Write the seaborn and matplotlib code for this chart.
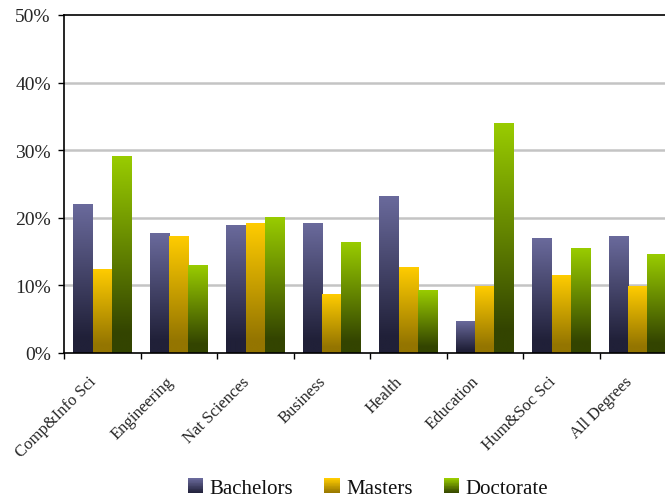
import numpy as np
import pandas as pd
import matplotlib
matplotlib.use("Agg")
import matplotlib.pyplot as plt
import matplotlib.transforms as mtransforms
import seaborn as sns
from matplotlib.colors import to_rgb
from matplotlib.legend_handler import HandlerBase
from matplotlib.patches import Rectangle, Patch
from matplotlib.ticker import FuncFormatter, FixedLocator

# Share of degrees awarded, by field and degree level (%)
categories = ["Comp&Info Sci", "Engineering", "Nat Sciences", "Business",
              "Health", "Education", "Hum&Soc Sci", "All Degrees"]
bachelors = [22.0, 17.7, 18.8, 19.1, 23.1, 4.7, 16.9, 17.2]
masters = [12.3, 17.2, 19.1, 8.6, 12.6, 9.9, 11.5, 9.9]
doctorate = [29.0, 12.9, 20.1, 16.4, 9.3, 33.9, 15.5, 14.5]
series = ["Bachelors", "Masters", "Doctorate"]

# light (top) and dark (bottom) ends of each bar's vertical gradient
top_colors = ["#6a6a9c", "#ffcc00", "#99cc00"]
bottom_colors = ["#202038", "#947500", "#334400"]

df = pd.DataFrame({"Field": categories, "Bachelors": bachelors,
                   "Masters": masters, "Doctorate": doctorate})
df = df.melt(id_vars="Field", var_name="Degree", value_name="Share")

sns.set_theme(style="white")
plt.rcParams["font.family"] = ["Liberation Serif", "DejaVu Serif"]
plt.rcParams["text.color"] = "#111111"


def ramp(top, bottom, n=256, hold=0.1):
    s = np.linspace(0, 1, n)
    t = np.clip(s / (1 - hold), 0, 1)
    c0, c1 = np.array(to_rgb(top)), np.array(to_rgb(bottom))
    return c0[None, :] * (1 - t[:, None]) + c1[None, :] * t[:, None]


fig = plt.figure(figsize=(6.65, 5.02), dpi=100)
ax = fig.add_axes([64 / 665, 148 / 502, 612 / 665, 338 / 502])

sns.barplot(data=df, x="Field", y="Share", hue="Degree", hue_order=series,
            order=categories, palette=top_colors, width=0.76, saturation=1,
            errorbar=None, legend=False, ax=ax)

# repaint every bar with a top-to-bottom gradient
for i, cont in enumerate(ax.containers):
    grad = ramp(top_colors[i], bottom_colors[i])[:, None, :]
    for bar in cont:
        x0, w, h = bar.get_x(), bar.get_width(), bar.get_height()
        ax.imshow(grad, extent=[x0, x0 + w, 0, h], aspect="auto",
                  origin="upper", interpolation="bilinear", zorder=2)
        bar.set_facecolor("none")
        bar.set_edgecolor("none")

ax.set_xlim(-0.5, len(categories) - 0.5)
ax.set_ylim(0, 50)
ax.set_xlabel("")
ax.set_ylabel("")

# y axis: percent ticks with light grid
ax.yaxis.set_major_locator(FixedLocator([0, 10, 20, 30, 40, 50]))
ax.yaxis.set_major_formatter(FuncFormatter(lambda v, p: f"{int(v)}%"))
ax.grid(False)
for yv in [10, 20, 30, 40]:
    ax.axhline(yv, color="#c4c4c4", linewidth=1.8, zorder=0.5)
ax.tick_params(axis="y", which="major", left=True, length=4.5, width=1,
               color="black", pad=5, labelsize=14)

# x axis: labels at group centres, tick marks on group boundaries
ax.set_xticks(range(len(categories)))
ax.set_xticklabels(categories, rotation=45, ha="right", va="center",
                   rotation_mode="anchor", fontsize=12)
ax.tick_params(axis="x", which="major", bottom=True, length=0, pad=18.5)
ax.set_xticks(np.arange(-0.5, len(categories) - 0.5, 1.0), minor=True)
ax.tick_params(axis="x", which="minor", bottom=True, length=4.5, width=1,
               color="black")
shift = mtransforms.ScaledTranslation(-8 / 100, 0, fig.dpi_scale_trans)
for lab in ax.get_xticklabels():
    lab.set_transform(lab.get_transform() + shift)

for side in ["left", "bottom", "top"]:
    ax.spines[side].set_visible(True)
    ax.spines[side].set_color("black")
    ax.spines[side].set_linewidth(1.2)
ax.spines["right"].set_visible(False)


class GradientSquare(HandlerBase):
    def __init__(self, top, bottom):
        super().__init__()
        self.top, self.bottom = top, bottom

    def create_artists(self, legend, orig_handle, xdescent, ydescent,
                       width, height, fontsize, trans):
        n = 20
        cols = ramp(self.top, self.bottom, n, hold=0.0)
        size = min(width, height)
        x0 = -xdescent
        y0 = -ydescent + (height - size) / 2
        arts = []
        for k in range(n):
            arts.append(Rectangle((x0, y0 + size * (n - 1 - k) / n), size,
                                  size / n * 1.05, facecolor=cols[k],
                                  edgecolor="none", transform=trans))
        return arts


handles = [Patch(facecolor=c) for c in top_colors]
hmap = {h: GradientSquare(t, b) for h, t, b in zip(handles, top_colors, bottom_colors)}
fig.legend(handles, series, handler_map=hmap, loc="center",
           bbox_to_anchor=(368 / 665, 1 - 489 / 502), ncol=3, frameon=False,
           fontsize=15, handlelength=0.75, handleheight=0.75,
           handletextpad=0.3, columnspacing=1.5)

fig.savefig("out.png", dpi=100, facecolor="white")
